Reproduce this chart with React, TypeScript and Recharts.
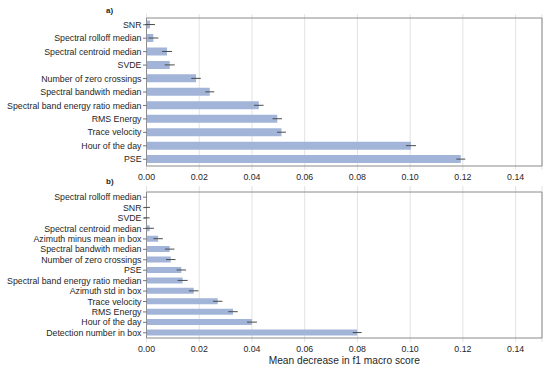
import React from "react";
import {
  Bar,
  BarChart,
  CartesianGrid,
  ErrorBar,
  ReferenceArea,
  XAxis,
  YAxis,
} from "recharts";

// panel a)
const topFeatures = [
  "SNR",
  "Spectral rolloff median",
  "Spectral centroid median",
  "SVDE",
  "Number of zero crossings",
  "Spectral bandwith median",
  "Spectral band energy ratio median",
  "RMS Energy",
  "Trace velocity",
  "Hour of the day",
  "PSE",
];
const topMeans = [0.0013, 0.0026, 0.0078, 0.0088, 0.0188, 0.024, 0.0426, 0.0496, 0.0512, 0.1003, 0.1192];
const topErrors = [0.0019, 0.0019, 0.0019, 0.0019, 0.0018, 0.0017, 0.0018, 0.0018, 0.0017, 0.0019, 0.0017];

// panel b)
const bottomFeatures = [
  "Spectral rolloff median",
  "SNR",
  "SVDE",
  "Spectral centroid median",
  "Azimuth minus mean in box",
  "Spectral bandwith median",
  "Number of zero crossings",
  "PSE",
  "Spectral band energy ratio median",
  "Azimuth std in box",
  "Trace velocity",
  "RMS Energy",
  "Hour of the day",
  "Detection number in box",
];
const bottomMeans = [0.0, 0.0002, 0.0001, 0.0012, 0.0044, 0.0088, 0.0092, 0.0132, 0.0137, 0.0179, 0.027, 0.0328, 0.04, 0.0799];
const bottomErrors = [0.0005, 0.0011, 0.0011, 0.0016, 0.0018, 0.0018, 0.0018, 0.0018, 0.0019, 0.0018, 0.0018, 0.0018, 0.0019, 0.0017];

const xTicks = [0, 0.02, 0.04, 0.06, 0.08, 0.1, 0.12, 0.14];
const xMax = 0.15;

const FONT = '"Liberation Sans", Arial, sans-serif';
const TEXT = "#262626";
const BAR = "#a2b5d9";
const FRAME = "#8a8a8a";
const GRID = "#e2e2e2";

const build = (names: string[], means: number[], errs: number[]) =>
  names.map((name, i) => ({ name, value: means[i], err: errs[i] }));

const topData = build(topFeatures, topMeans, topErrors);
const bottomData = build(bottomFeatures, bottomMeans, bottomErrors);

// plain text tick, recharts' own one wraps long names
const NameTick = ({ x, y, payload }: any) => (
  <text
    x={x}
    y={y}
    dy="0.35em"
    textAnchor="end"
    fontSize={8.8}
    fill={TEXT}
    fontFamily={FONT}
  >
    {payload.value}
  </text>
);

function Panel({
  data,
  height,
  margin,
  pad,
  xHeight,
  title,
}: {
  data: { name: string; value: number; err: number }[];
  height: number;
  margin: { top: number; right: number; left: number; bottom: number };
  pad: { top: number; bottom: number };
  xHeight: number;
  title?: string;
}) {
  return (
    <BarChart
      width={550}
      height={height}
      data={data}
      layout="vertical"
      margin={margin}
      barCategoryGap="19%"
    >
      <CartesianGrid horizontal={false} stroke={GRID} strokeWidth={1} />
      <XAxis
        type="number"
        domain={[0, xMax]}
        ticks={xTicks}
        allowDataOverflow
        height={xHeight}
        tickFormatter={(v) => v.toFixed(2)}
        tick={{ fontSize: 8.8, fill: TEXT, fontFamily: FONT }}
        tickLine={false}
        tickSize={2}
        tickMargin={2}
        axisLine={false}
        label={
          title
            ? {
                value: title,
                position: "insideBottom",
                offset: 7,
                fontSize: 10.2,
                fill: TEXT,
                fontFamily: FONT,
              }
            : undefined
        }
      />
      <YAxis
        type="category"
        dataKey="name"
        width={146.5}
        padding={pad}
        interval={0}
        tick={<NameTick />}
        tickLine={{ stroke: "#555", strokeWidth: 0.8 }}
        tickSize={3.5}
        tickMargin={1.5}
        axisLine={false}
      />
      <Bar dataKey="value" fill={BAR} isAnimationActive={false}>
        <ErrorBar
          dataKey="err"
          direction="x"
          width={0}
          stroke="#4a4a4a"
          strokeWidth={1}
          isAnimationActive={false}
        />
      </Bar>
      <ReferenceArea
        x1={0}
        x2={xMax}
        fill="none"
        stroke={FRAME}
        strokeWidth={1}
        ifOverflow="visible"
      />
    </BarChart>
  );
}

export default function App() {
  return (
    <div
      style={{
        position: "absolute",
        left: 0,
        top: 0,
        width: 550,
        height: 371,
        background: "#fff",
        fontFamily: FONT,
      }}
    >
      <div style={{ position: "absolute", left: 0, top: 0 }}>
        <Panel
          data={topData}
          height={185}
          margin={{ top: 14, right: 8, left: 0, bottom: 0 }}
          pad={{ top: 4, bottom: 4 }}
          xHeight={15}
        />
      </div>
      <div style={{ position: "absolute", left: 0, top: 185 }}>
        <Panel
          data={bottomData}
          height={186}
          margin={{ top: 1, right: 8, left: 0, bottom: 0 }}
          pad={{ top: 6, bottom: 4 }}
          xHeight={29}
          title="Mean decrease in f1 macro score"
        />
      </div>
      <div
        style={{
          position: "absolute",
          left: 106,
          top: 6,
          fontSize: 8,
          fontWeight: "bold",
          color: TEXT,
        }}
      >
        a)
      </div>
      <div
        style={{
          position: "absolute",
          left: 106,
          top: 177,
          fontSize: 8,
          fontWeight: "bold",
          color: TEXT,
        }}
      >
        b)
      </div>
    </div>
  );
}
